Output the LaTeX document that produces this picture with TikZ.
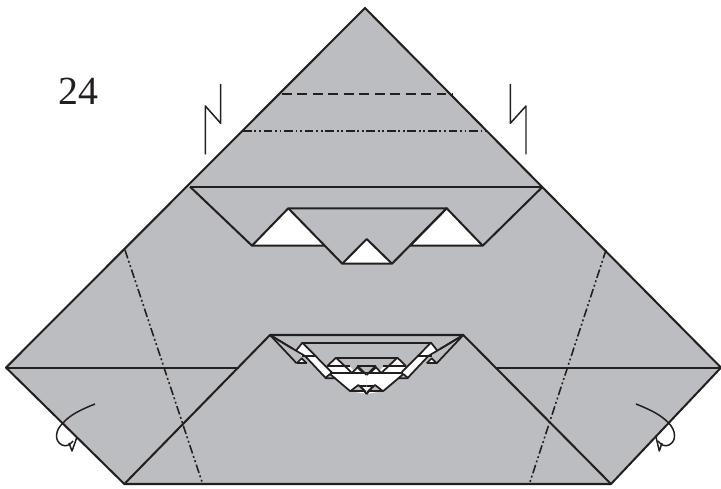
\documentclass[tikz,border=0pt]{standalone}
\usepackage{fontspec}
\setmainfont{Liberation Serif}
\begin{document}
\begin{tikzpicture}[x=.02cm, y=-.02cm, line join=round, edge/.style={draw=Ink, line width=1.15pt}, fine/.style={draw=Ink, line width=1pt}, thin edge/.style={draw=Ink, line width=.85pt}, valley/.style={draw=Ink, line width=.9pt, dash pattern=on 5.6pt off 3.2pt}, mountain/.style={draw=Ink, line width=.9pt, dash pattern=on 5pt off 1.5pt on 1.1pt off 1.5pt on 1.1pt off 1.5pt}]
\definecolor{Sheet}{HTML}{BCBDC0}\definecolor{Ink}{HTML}{231F20}
\useasboundingbox (0,0) rectangle (721,489);
\fill[white] (0,0) rectangle (721,489);
\coordinate (T) at (365,8); \coordinate (L) at (6,367.6); \coordinate (R) at (721,367.6); \coordinate (BL) at (124.3,484); \coordinate (BR) at (611,484);
\fill[Sheet] (T)--(R)--(BR)--(BL)--(L)--cycle;
\fill[white] (252,245.7)--(288.3,208.3)--(325,245.7)--cycle; \fill[white] (410,245.7)--(446.7,208.3)--(482.7,245.7)--cycle; \fill[white] (342.3,263.7)--(366.7,239)--(392,263.7)--cycle;
\draw[edge] (T)--(R)--(BR)--(BL)--(L)--cycle;
\draw[edge] (190,186.7)--(542.7,186.7);
\draw[edge] (190,186.7)--(252,245.7)--(325,245.7); \draw[edge] (252,245.7)--(288.3,208.3)--(446.7,208.3)--(410,245.7)--(482.7,245.7)--(542.7,186.7);
\draw[edge] (288.3,208.3)--(342.3,263.7)--(392,263.7)--(446.7,208.3)--(482.7,245.7); \draw[edge] (342.3,263.7)--(366.7,239)--(392,263.7);
\draw[edge] (L)--(239,367.6); \draw[edge] (495,367.6)--(R);
\draw[edge] (BL)--(270,335)--(463.3,335)--(BR);
\draw[valley] (282,94)--(453,94);
\draw[mountain] (243,131)--(489,131);
\draw[mountain] (125,250)--(202,482);
\draw[mountain] (606,250)--(530,482);
\draw[thin edge] (220.7,84)--(220.7,123.3)--(205.3,106)--(205.3,154.3);
\draw[thin edge] (510.3,84)--(510.3,123.3)--(526,106)--(526,154.3);
\draw[thin edge] (95,404) .. controls (80,410) and (70,415) .. (63.3,422.7) .. controls (55,430) and (54,441) .. (62,445) .. controls (66,447) and (70,445) .. (73,441);
\draw[thin edge] (69,443)--(72,451)--(77,437);
\draw[thin edge] (636,404) .. controls (651,410) and (661,415) .. (668.3,422.7) .. controls (676,430) and (677,441) .. (669,445) .. controls (665,447) and (661,445) .. (658,441);
\draw[thin edge] (662,443)--(659.3,451)--(656,437);
\foreach \sx in {1,-1} {
\begin{scope}[shift={(366.67,320)}, xscale=\sx/3, yscale=1/3]
\fill[white] (-193,68)--(-212,92)--(-195,108)--(-155,108)--cycle;
\fill[white] (-210,130)--(-195,115)--(-180,130)--cycle;
\fill[white] (-185,108)--(-155,108)--(-105,157)--(-122,175)--cycle;
\fill[white] (-118,138)--(-92,113)--(-65,138)--cycle;
\fill[white] (-118,140)--(-50,140)--(-35,157)--(-105,157)--cycle;
\fill[white] (-42,157)--(-28,142)--(-12,157)--cycle;
\fill[white] (-110,160)--(0,160)--(0,222)--(-50,213)--cycle;
\fill[Sheet] (-48,213)--(-25,195)--(-5,213)--cycle;
\fill[Sheet] (-125,175)--(-110,162)--(-95,175)--cycle;
\draw[fine] (-290,45)--(-212,92); \draw[fine] (-290,45)--(-210,130); \draw[fine] (-290,45)--(-222,86);
\draw[edge] (-290,45)--(0,45);
\draw[edge] (-193,68)--(0,68);
\draw[fine] (-212,92)--(-193,68)--(-105,157);
\draw[fine] (-212,92)--(-185,108)--(-122,175)--(-95,175)--(-50,213)--(-5,213)--(0,222);
\draw[fine] (-210,130)--(-180,130); \draw[fine] (-210,130)--(-195,115)--(-180,130);
\draw[fine] (-125,175)--(-110,162)--(-95,175);
\draw[edge] (-195,108)--(-155,108);
\draw[edge] (-110,158)--(0,158);
\draw[fine] (-118,138)--(-92,113)--(-45,158);
\draw[edge] (-92,113)--(0,113); \draw[edge] (-118,138)--(-50,138);
\draw[fine] (-42,157)--(-28,142)--(-12,157);
\draw[fine] (-28,137)--(0,137); \draw[fine] (-28,137)--(0,165);
\draw[fine] (-48,213)--(-25,195)--(-5,213); \draw[fine] (-20,197)--(0,197); \draw[fine] (-20,197)--(0,222);
\end{scope}
}
\node[font=\fontsize{22.7pt}{24pt}\selectfont, text=Ink] (stepno) at (78.5,91.5) {24};
\end{tikzpicture}
\end{document}
